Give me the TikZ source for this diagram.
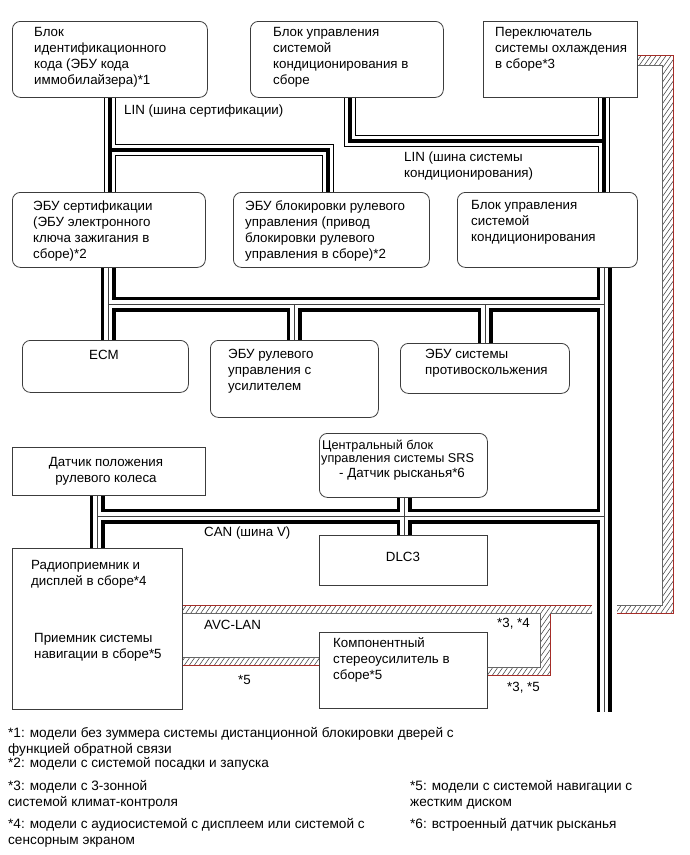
\documentclass[tikz,border=0pt]{standalone}
\usepackage{fontspec}
\setmainfont{Liberation Sans}
\definecolor{avcred}{RGB}{165,45,40}
\definecolor{boxline}{RGB}{60,60,60}
\definecolor{hatch}{RGB}{70,70,70}
\newcommand\mainfs{\fontsize{13.33}{16}\selectfont}
\newcommand\smallfs{\fontsize{12.7}{14.5}\selectfont}
\newcommand\fnfs{\fontsize{13.6}{16.5}\selectfont}
\newcommand\mkbox[6]{\node[#1, minimum width={(#4-#2)*1pt}, minimum height={(#5-#3)*1pt}] (#6) at (#2,#3) {};}
\newcommand\linbus[1]{%
  \draw[line width=11.5pt, line join=miter] #1;
  \draw[white, line width=9.3pt, line join=miter] #1;
  \draw[line width=3.4pt] #1;}
\newcommand\canbus[1]{%
  \draw[line width=15pt, line join=miter] #1;
  \draw[white, line width=8pt, line join=miter] #1;
  \draw[line width=0.9pt, black!75] #1;}
\begin{document}
\begin{tikzpicture}[x=1pt,y=-1pt,
  box/.style={draw=boxline, line width=0.8pt, anchor=north west, inner sep=0pt},
  rbox/.style={box, rounded corners=8pt},
  txt/.style={anchor=north west, inner sep=0pt, align=left, font=\mainfs},
  fn/.style={anchor=north west, inner sep=0pt, align=left, font=\fnfs},
  hatchline/.style={draw=hatch, line width=0.55pt},
  avcedge/.style={draw=avcred, line width=1pt},
  avcin/.style={draw=black!60, line width=0.7pt}]
\fill[white] (0,0) rectangle (690,855);
\useasboundingbox (0,0) rectangle (690,855);

% boxes
\mkbox{rbox}{12}{21}{207}{97}{idc}
\mkbox{rbox}{250}{21}{443}{97}{acs}
\mkbox{box}{483}{21}{637}{97}{csw}
\mkbox{rbox}{12}{192}{205}{267}{cert}
\mkbox{rbox}{233}{192}{429}{267}{slk}
\mkbox{rbox}{457}{192}{637}{267}{acu}
\mkbox{rbox}{22}{340}{188}{392}{ecm}
\mkbox{rbox}{210}{340}{378}{417}{eps}
\mkbox{rbox}{400}{343}{569}{393}{abs}
\mkbox{box}{12}{447}{205}{495}{sws}
\mkbox{rbox}{319}{433}{487}{497}{srs}
\mkbox{box}{319}{535}{487}{585}{dlc}
\mkbox{box}{12}{548}{182}{709}{rad}
\mkbox{box}{319}{632}{487}{708}{amp}

% bus points
\coordinate (L1) at (110,150); \coordinate (L2) at (328,150);
\coordinate (A1) at (350,141); \coordinate (A2) at (604,141);
\coordinate (C1) at (108,304); \coordinate (C2) at (294,304);
\coordinate (C3) at (485,304); \coordinate (C4) at (604,304);
\coordinate (C5) at (604,712);
\coordinate (V1) at (97,516); \coordinate (V2) at (404,516); \coordinate (V3) at (604,516);

% AVC-LAN hatched bands
\begin{scope}
\clip (637,55) -- (673,55) -- (673,613) -- (617,613) -- (617,605) -- (662,605) -- (662,65) -- (637,65) -- cycle
      (182,605) -- (592,605) -- (592,613) -- (550,613) -- (550,675) -- (487,675) -- (487,667) -- (540,667) -- (540,613) -- (182,613) -- cycle
      (182,657) -- (319,657) -- (319,665) -- (182,665) -- cycle;
\foreach \x in {-320,-315,...,690} \draw[hatchline] (\x,700) -- ++(490,-700);
\end{scope}
\draw[avcedge] (csw.north east |- 0,55) -- (673,55) -- (673,613) -- (617,613);
\draw[avcin] (csw.north east |- 0,65) -- (662,65) -- (662,605) -- (617,605);
\draw[avcedge] (rad.north east |- 0,605) -- (592,605);
\draw[avcedge] (550,613) -- (550,675) -- (amp.north east |- 0,675);
\draw[avcin] (rad.north east |- 0,613) -- (540,613) -- (540,667) -- (amp.north east |- 0,667);
\draw[avcin] (550,613) -- (592,613);
\draw[avcin] (rad.north east |- 0,657) -- (amp.north west |- 0,657);
\draw[avcedge] (rad.north east |- 0,665) -- (amp.north west |- 0,665);

% LIN buses
\linbus{(idc.south -| L1) -- (cert.north -| L1) (L1) -- (L2) -- (slk.north -| L2)}
\linbus{(acs.south -| A1) -- (A1) -- (A2) (csw.south -| A2) -- (acu.north -| A2)}
% CAN buses
\canbus{(cert.south -| C1) -- (ecm.north -| C1) (C1) -- (C4) (C2) -- (eps.north -| C2) (C3) -- (abs.north -| C3) (acu.south -| C4) -- (C5)
  (sws.south -| V1) -- (rad.north -| V1) (V1) -- (V3) (srs.south -| V2) -- (dlc.north -| V2)}

% box texts
\node[txt] (idct) at (34,27) {Блок\\идентификационного\\кода (ЭБУ кода\\иммобилайзера)*1};
\node[txt] (acst) at (273,27) {Блок управления\\системой\\кондиционирования в\\сборе};
\node[txt] (cswt) at (495,27) {Переключатель\\системы охлаждения\\в сборе*3};
\node[txt] (certt) at (33,201) {ЭБУ сертификации\\(ЭБУ электронного\\ключа зажигания в\\сборе)*2};
\node[txt] (slkt) at (245,201) {ЭБУ блокировки рулевого\\управления (привод\\блокировки рулевого\\управления в сборе)*2};
\node[txt] (acut) at (471,200) {Блок управления\\системой\\кондиционирования};
\node[txt, anchor=north] (ecmt) at (104,350) {ECM};
\node[txt] (epst) at (228,349) {ЭБУ рулевого\\управления с\\усилителем};
\node[txt] (abst) at (425,349) {ЭБУ системы\\противоскольжения};
\node[txt, anchor=north, align=center] (swst) at (106,457) {Датчик положения\\рулевого колеса};
\node[txt, font=\smallfs] (srst1) at (322,439.5) {Центральный блок};
\node[txt, font=\smallfs] (srst2) at (321,453.5) {управления системы SRS};
\node[txt] (srst3) at (339,468) {- Датчик рысканья*6};
\node[txt, anchor=north] (dlct) at (403,552) {DLC3};
\node[txt] (radt1) at (31,560) {Радиоприемник и\\дисплей в сборе*4};
\node[txt] (radt2) at (34,633) {Приемник системы\\навигации в сборе*5};
\node[txt] (ampt) at (333,637) {Компонентный\\стереоусилитель в\\сборе*5};

% bus labels
\node[txt] (linc) at (124,105) {LIN (шина сертификации)};
\node[txt] (lina) at (404,152) {LIN (шина системы\\кондиционирования)};
\node[txt] (canv) at (204,527) {CAN (шина V)};
\node[txt] (avcl) at (204,620) {AVC-LAN};
\node[txt] (n5) at (238,675) {*5};
\node[txt] (n34) at (497,618) {*3, *4};
\node[txt] (n35) at (507,682) {*3, *5};

% footnotes
\node[fn] (f1) at (8,727) {*1: модели без зуммера системы дистанционной блокировки дверей с\\функцией обратной связи};
\node[fn] (f2) at (8,757) {*2: модели с системой посадки и запуска};
\node[fn] (f3) at (8,780) {*3: модели с 3-зонной\\системой климат-контроля};
\node[fn] (f4) at (8,818) {*4: модели с аудиосистемой с дисплеем или системой с\\сенсорным экраном};
\node[fn] (f5) at (410,780) {*5: модели с системой навигации с\\жестким диском};
\node[fn] (f6) at (410,818) {*6: встроенный датчик рысканья};
\end{tikzpicture}
\end{document}
